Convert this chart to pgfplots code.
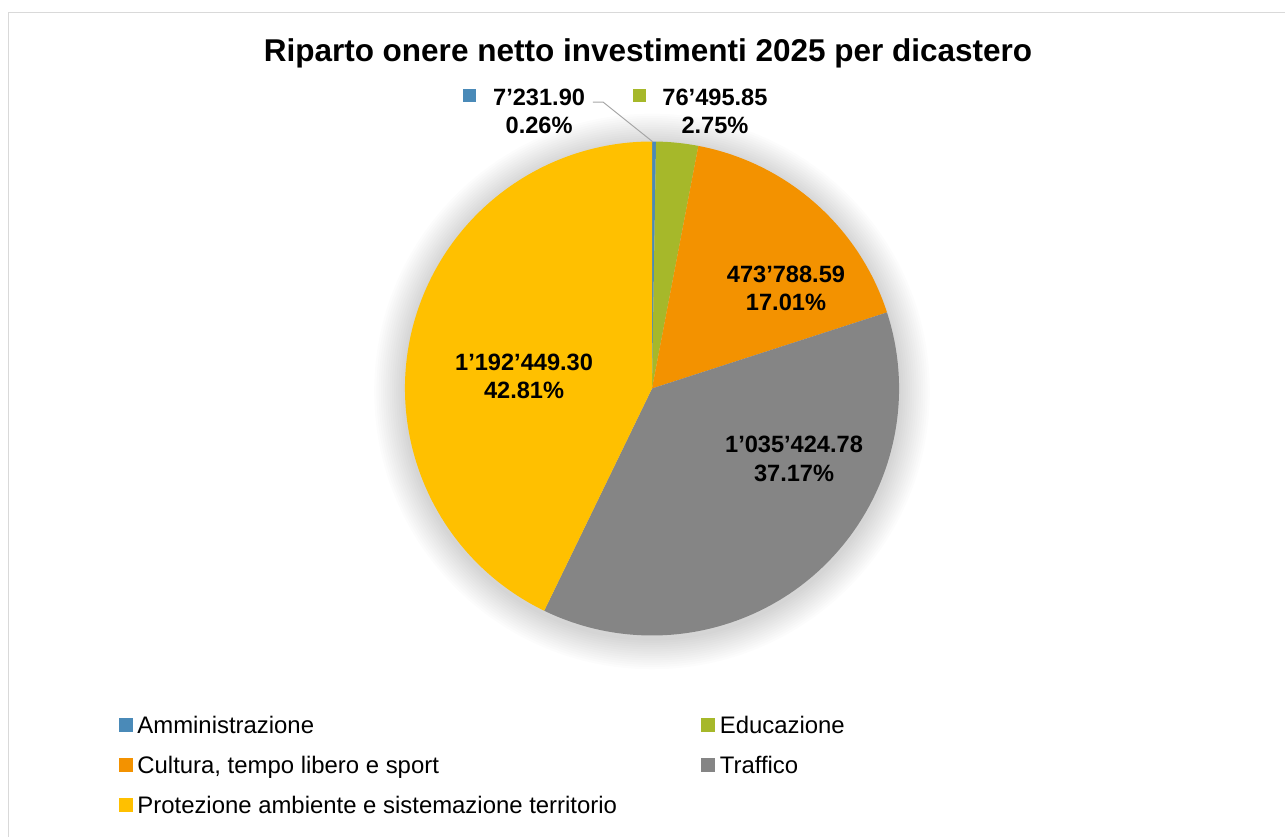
\documentclass[border=0pt]{standalone}
\usepackage{fontspec}
\setmainfont{Liberation Sans}
\usepackage{pgfplots}
\pgfplotsset{compat=1.18}

\definecolor{cAmm}{HTML}{4A8AB8}
\definecolor{cEdu}{HTML}{A6B82A}
\definecolor{cCul}{HTML}{F39200}
\definecolor{cTra}{HTML}{858585}
\definecolor{cPro}{HTML}{FFC000}
\definecolor{frame}{HTML}{D9D9D9}

\newcommand{\lblfont}{\bfseries\fontsize{23.6}{28.5}\selectfont}

\begin{document}
\begin{tikzpicture}[x=1pt,y=1pt]
  \useasboundingbox (0,0) rectangle (1285,836);
  \draw[frame, line width=1.2pt] (8.5,-20) |- (1310,823.5);
  \node[anchor=base, inner sep=0pt] at (648,774)
    {\bfseries\fontsize{31.5}{36}\selectfont Riparto onere netto investimenti 2025 per dicastero};

  \begin{axis}[
      at={(652pt,447.5pt)}, anchor=center,
      scale only axis, width=494pt, height=494pt,
      xmin=-1, xmax=1, ymin=-1, ymax=1,
      hide axis, clip=false,
      legend columns=2,
      legend cell align=left,
      legend image code/.code={\fill[#1] (0pt,-3.5pt) rectangle (13pt,9.5pt);},
      legend style={draw=none, fill=none, inner sep=0pt, outer sep=0pt,
        at={(-0.5789,-0.1645)}, anchor=north west,
        font=\fontsize{23.9}{28}\selectfont,
        column sep=5pt, row sep=18pt,
        nodes={inner xsep=0pt, inner ysep=0pt, text height=17pt, text depth=5pt}},
    ]
    % soft shadow round the pie
    \foreach \k in {1,...,14}{
      \edef\temp{\noexpand\fill[black, opacity=0.011]
        (axis cs:0,-0.012) circle[radius=\fpeval{247+2.2*\k}pt];}
      \temp
    }
    % slices, clockwise from the top
    \def\total{2785390.42}
    \foreach \v/\c [remember=\e as \s (initially 90)] in
        {7231.90/cAmm, 76495.85/cEdu, 473788.59/cCul, 1035424.78/cTra, 1192449.30/cPro}{
      \edef\e{\fpeval{\s - 360*\v/\total}}
      \edef\temp{\noexpand\fill[\c] (axis cs:0,0) -- (axis cs:{cos(\s)},{sin(\s)})
        arc[start angle=\s, end angle=\e, radius=247pt] -- cycle;}
      \temp
    }

    \addlegendimage{cAmm}\addlegendentry{\makebox[559pt][l]{Amministrazione}}
    \addlegendimage{cEdu}\addlegendentry{Educazione}
    \addlegendimage{cCul}\addlegendentry{\makebox[559pt][l]{Cultura, tempo libero e sport}}
    \addlegendimage{cTra}\addlegendentry{Traffico}
    \addlegendimage{cPro}\addlegendentry{\makebox[559pt][l]{Protezione ambiente e sistemazione territorio}}

    % data labels
    \node[align=center, font=\lblfont, inner sep=0pt] at (axis cs:0.5425,0.4049) {473’788.59\\17.01\%};
    \node[align=center, font=\lblfont, inner sep=0pt] at (axis cs:0.575,-0.2854) {1’035’424.78\\37.17\%};
    \node[align=center, font=\lblfont, inner sep=0pt] at (axis cs:-0.518,0.0486) {1’192’449.30\\42.81\%};
    \node[align=center, font=\lblfont, inner sep=0pt] at (axis cs:-0.457,1.1227) {7’231.90\\0.26\%};
    \node[align=center, font=\lblfont, inner sep=0pt] at (axis cs:0.255,1.1227) {76’495.85\\2.75\%};
    \fill[cAmm] (axis cs:-0.739,1.186) ++(-6.5pt,-6.5pt) rectangle ++(13pt,13pt);
    \fill[cEdu] (axis cs:-0.0506,1.186) ++(-6.5pt,-6.5pt) rectangle ++(13pt,13pt);
    \draw[black!35, line width=1pt] (axis cs:-0.2389,1.1599) -- (axis cs:-0.1984,1.1599) -- (axis cs:0.00405,0.998);
  \end{axis}
\end{tikzpicture}
\end{document}
